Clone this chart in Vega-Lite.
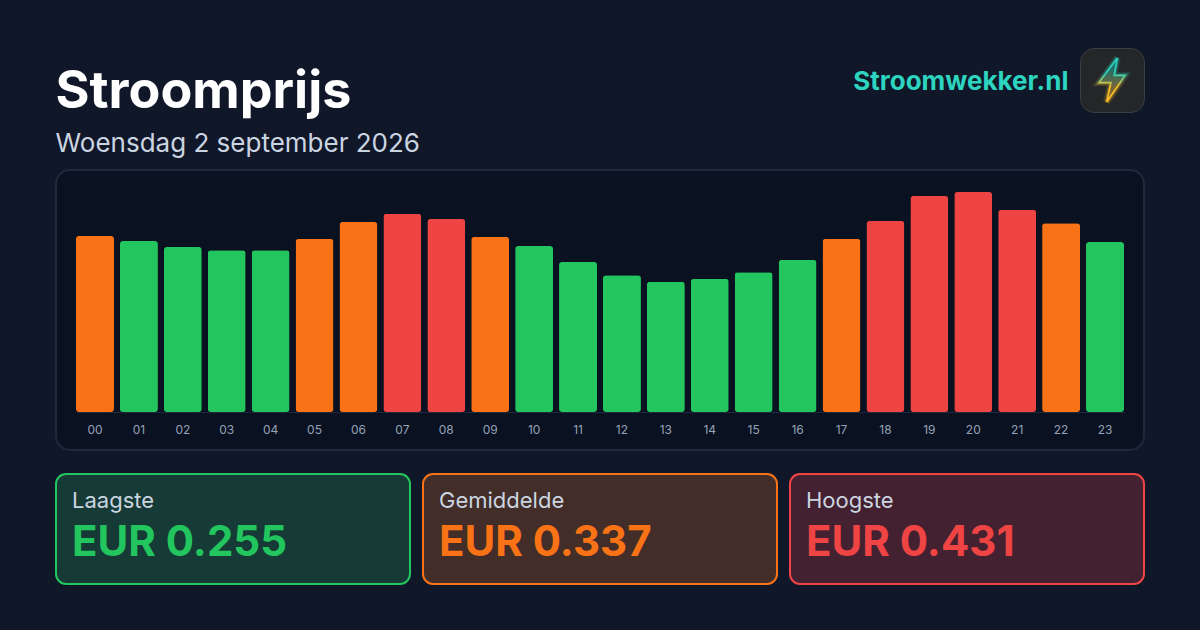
{
  "$schema": "https://vega.github.io/schema/vega-lite/v6.json",
  "background": "#0f1729",
  "padding": {"left": 55, "top": 43, "right": 56, "bottom": 45},
  "config": {"font": "Inter", "view": {"stroke": null}},
  "datasets": {
    "uren": [
      {"uur": "00", "prijs": 0.345, "niveau": "midden"},
      {"uur": "01", "prijs": 0.335, "niveau": "laag"},
      {"uur": "02", "prijs": 0.323, "niveau": "laag"},
      {"uur": "03", "prijs": 0.317, "niveau": "laag"},
      {"uur": "04", "prijs": 0.317, "niveau": "laag"},
      {"uur": "05", "prijs": 0.339, "niveau": "midden"},
      {"uur": "06", "prijs": 0.372, "niveau": "midden"},
      {"uur": "07", "prijs": 0.388, "niveau": "hoog"},
      {"uur": "08", "prijs": 0.378, "niveau": "hoog"},
      {"uur": "09", "prijs": 0.343, "niveau": "midden"},
      {"uur": "10", "prijs": 0.325, "niveau": "laag"},
      {"uur": "11", "prijs": 0.294, "niveau": "laag"},
      {"uur": "12", "prijs": 0.268, "niveau": "laag"},
      {"uur": "13", "prijs": 0.255, "niveau": "laag"},
      {"uur": "14", "prijs": 0.261, "niveau": "laag"},
      {"uur": "15", "prijs": 0.274, "niveau": "laag"},
      {"uur": "16", "prijs": 0.298, "niveau": "laag"},
      {"uur": "17", "prijs": 0.339, "niveau": "midden"},
      {"uur": "18", "prijs": 0.374, "niveau": "hoog"},
      {"uur": "19", "prijs": 0.423, "niveau": "hoog"},
      {"uur": "20", "prijs": 0.431, "niveau": "hoog"},
      {"uur": "21", "prijs": 0.396, "niveau": "hoog"},
      {"uur": "22", "prijs": 0.37, "niveau": "midden"},
      {"uur": "23", "prijs": 0.333, "niveau": "laag"}
    ]
  },
  "spacing": 22,
  "vconcat": [
    {
      "spacing": 11,
      "vconcat": [
        {
          "spacing": 11,
          "bounds": "flush",
          "hconcat": [
            {
              "width": 1013,
              "height": 110,
              "layer": [
                {
                  "data": {"values": [{"tekst": "Stroomprijs"}]},
                  "mark": {"type": "text", "align": "left", "baseline": "middle", "dx": -507, "dy": -11, "fontSize": 52, "fontWeight": 700, "color": "#ffffff"},
                  "encoding": {"text": {"field": "tekst"}}
                },
                {
                  "data": {"values": [{"tekst": "Woensdag 2 september 2026"}]},
                  "mark": {"type": "text", "align": "left", "baseline": "middle", "dx": -507, "dy": 41, "fontSize": 26, "color": "#cbd5e1"},
                  "encoding": {"text": {"field": "tekst"}}
                },
                {
                  "data": {"values": [{"tekst": "Stroomwekker.nl"}]},
                  "mark": {"type": "text", "align": "right", "baseline": "middle", "dx": 506, "dy": -21, "fontSize": 26, "fontWeight": 700, "color": "#2dd4bf"},
                  "encoding": {"text": {"field": "tekst"}}
                }
              ]
            },
            {
              "width": 64,
              "height": 64,
              "view": {"fill": "#252628", "stroke": "#3b3e43", "strokeWidth": 1, "cornerRadius": 14},
              "data": {"values": [{"logo": "bliksem"}]},
              "layer": [
                {
                  "mark": {
                    "type": "point",
                    "filled": false,
                    "size": 1936,
                    "strokeWidth": 7,
                    "opacity": 0.14,
                    "shape": "M0.24,-1L-0.59,0.12L-0.05,0.12L-0.24,1L0.59,-0.21L0.1,-0.21Z",
                    "stroke": {"gradient": "linear", "x1": 0, "y1": 0, "x2": 0, "y2": 1, "stops": [{"offset": 0.35, "color": "#2dd4bf"}, {"offset": 0.65, "color": "#fbbf24"}]}
                  },
                  "encoding": {}
                },
                {
                  "mark": {
                    "type": "point",
                    "filled": false,
                    "size": 1936,
                    "strokeWidth": 4,
                    "opacity": 0.3,
                    "shape": "M0.24,-1L-0.59,0.12L-0.05,0.12L-0.24,1L0.59,-0.21L0.1,-0.21Z",
                    "stroke": {"gradient": "linear", "x1": 0, "y1": 0, "x2": 0, "y2": 1, "stops": [{"offset": 0.35, "color": "#2dd4bf"}, {"offset": 0.65, "color": "#fbbf24"}]}
                  },
                  "encoding": {}
                },
                {
                  "mark": {
                    "type": "point",
                    "filled": true,
                    "size": 1936,
                    "strokeWidth": 1.6,
                    "opacity": 1,
                    "shape": "M0.24,-1L-0.59,0.12L-0.05,0.12L-0.24,1L0.59,-0.21L0.1,-0.21Z",
                    "fill": {"gradient": "linear", "x1": 0, "y1": 0, "x2": 0, "y2": 1, "stops": [{"offset": 0.25, "color": "#22706c"}, {"offset": 0.7, "color": "#7d6433"}]},
                    "stroke": {"gradient": "linear", "x1": 0, "y1": 0, "x2": 0, "y2": 1, "stops": [{"offset": 0.35, "color": "#2dd4bf"}, {"offset": 0.65, "color": "#fbbf24"}]}
                  },
                  "encoding": {}
                }
              ]
            }
          ]
        },
        {
          "width": 1088,
          "height": 280,
          "view": {"fill": "#0a1120", "stroke": "#1e293b", "strokeWidth": 2, "cornerRadius": 14},
          "data": {"name": "uren"},
          "mark": {"type": "bar", "cornerRadius": 3},
          "encoding": {
            "x": {
              "field": "uur",
              "type": "ordinal",
              "scale": {"range": [20, 1068], "paddingInner": 0.135, "paddingOuter": 0},
              "axis": {"title": null, "labelAngle": 0, "offset": -38, "ticks": false, "domainColor": "#1e293b", "labelColor": "#94a3b8", "labelFontSize": 12, "labelPadding": 12, "zindex": 1}
            },
            "y": {
              "field": "prijs",
              "type": "quantitative",
              "scale": {"domain": [-0.0745, 0.4741], "nice": false, "zero": false},
              "axis": null
            },
            "color": {
              "field": "niveau",
              "type": "nominal",
              "scale": {"domain": ["laag", "midden", "hoog"], "range": ["#22c55e", "#f97316", "#ef4444"]},
              "legend": null
            }
          }
        }
      ]
    },
    {
      "spacing": 13,
      "bounds": "flush",
      "hconcat": [
        {
          "width": 354,
          "height": 110,
          "view": {"fill": "#163a35", "stroke": "#22c55e", "strokeWidth": 2, "cornerRadius": 10},
          "layer": [
            {
              "data": {"values": [{"tekst": "Laagste"}]},
              "mark": {"type": "text", "align": "left", "baseline": "middle", "dx": -161, "dy": -28, "fontSize": 22, "color": "#cbd5e1"},
              "encoding": {"text": {"field": "tekst"}}
            },
            {
              "data": {"values": [{"tekst": "EUR 0.255"}]},
              "mark": {"type": "text", "align": "left", "baseline": "middle", "dx": -161, "dy": 14, "fontSize": 42, "fontWeight": 700, "color": "#22c55e"},
              "encoding": {"text": {"field": "tekst"}}
            }
          ]
        },
        {
          "width": 354,
          "height": 110,
          "view": {"fill": "#422d28", "stroke": "#f97316", "strokeWidth": 2, "cornerRadius": 10},
          "layer": [
            {
              "data": {"values": [{"tekst": "Gemiddelde"}]},
              "mark": {"type": "text", "align": "left", "baseline": "middle", "dx": -161, "dy": -28, "fontSize": 22, "color": "#cbd5e1"},
              "encoding": {"text": {"field": "tekst"}}
            },
            {
              "data": {"values": [{"tekst": "EUR 0.337"}]},
              "mark": {"type": "text", "align": "left", "baseline": "middle", "dx": -161, "dy": 14, "fontSize": 42, "fontWeight": 700, "color": "#f97316"},
              "encoding": {"text": {"field": "tekst"}}
            }
          ]
        },
        {
          "width": 354,
          "height": 110,
          "view": {"fill": "#432130", "stroke": "#ef4444", "strokeWidth": 2, "cornerRadius": 10},
          "layer": [
            {
              "data": {"values": [{"tekst": "Hoogste"}]},
              "mark": {"type": "text", "align": "left", "baseline": "middle", "dx": -161, "dy": -28, "fontSize": 22, "color": "#cbd5e1"},
              "encoding": {"text": {"field": "tekst"}}
            },
            {
              "data": {"values": [{"tekst": "EUR 0.431"}]},
              "mark": {"type": "text", "align": "left", "baseline": "middle", "dx": -161, "dy": 14, "fontSize": 42, "fontWeight": 700, "color": "#ef4444"},
              "encoding": {"text": {"field": "tekst"}}
            }
          ]
        }
      ]
    }
  ]
}
